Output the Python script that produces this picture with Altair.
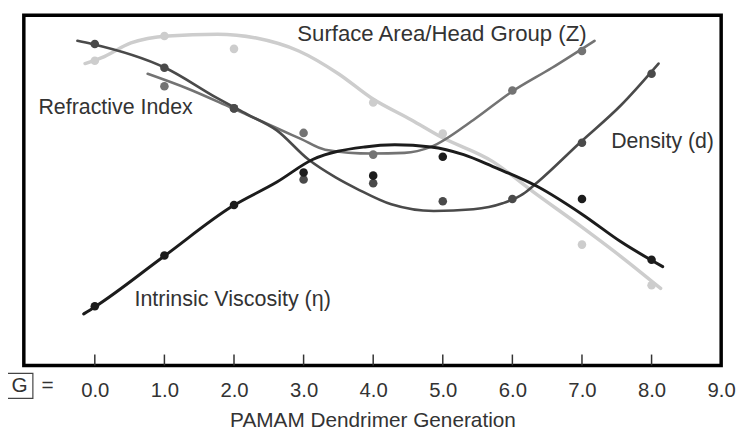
import altair as alt
import pandas as pd

# ---- data (x = dendrimer generation G, y = relative units 0-100) ----
# Intrinsic viscosity (black)
visc_curve_g = [-0.16, 0.0, 0.99, 1.98, 2.61, 3.13, 3.88, 4.31, 4.83, 5.30, 5.72, 6.36, 7.0, 7.56, 8.16]
visc_curve_v = [14.7, 16.7, 31.1, 45.5, 52.3, 58.8, 62.4, 63.0, 62.4, 60.2, 56.8, 51.1, 43.2, 35.3, 28.2]
visc_pts_g = [0, 1, 2, 3, 4, 5, 7, 8]
visc_pts_v = [16.9, 31.4, 45.8, 55.1, 54.2, 59.6, 47.5, 30.2]

# Density (dark grey)
dens_curve_g = [-0.25, -0.04, 1.01, 1.76, 2.18, 2.61, 3.07, 3.46, 3.78, 4.26, 4.87, 5.44, 5.86, 6.15, 6.36, 6.97, 7.56, 8.10]
dens_curve_v = [92.7, 91.8, 85.0, 76.3, 71.8, 67.2, 58.8, 53.7, 50.3, 46.0, 44.1, 44.6, 46.3, 48.9, 52.3, 63.6, 74.3, 86.2]
dens_pts_g = [0, 1, 2, 3, 4, 5, 6, 7, 8]
dens_pts_v = [91.8, 85.0, 73.4, 53.1, 52.0, 46.9, 47.5, 63.6, 83.3]

# Surface area / head group Z (medium grey)
z_curve_g = [0.76, 1.33, 1.95, 2.61, 2.96, 3.31, 3.98, 4.45, 4.83, 5.44, 5.98, 6.57, 7.18]
z_curve_v = [83.3, 79.1, 73.7, 67.8, 64.7, 61.6, 60.5, 60.7, 62.4, 70.1, 78.0, 85.0, 92.7]
z_pts_g = [1, 2, 3, 4, 6, 7]
z_pts_v = [79.7, 73.4, 66.4, 60.2, 78.5, 89.8]

# Refractive index (light grey)
ri_curve_g = [-0.14, 0.10, 0.52, 1.05, 1.76, 2.32, 2.93, 3.50, 3.98, 4.55, 4.97, 5.72, 6.29, 7.0, 7.56, 8.13]
ri_curve_v = [86.2, 87.9, 92.1, 94.1, 94.6, 93.5, 89.8, 83.3, 76.3, 70.1, 65.3, 58.2, 49.7, 39.5, 31.1, 22.0]
ri_pts_g = [0, 1, 2, 4, 5, 7, 8]
ri_pts_v = [87.0, 94.1, 90.4, 75.1, 66.2, 34.5, 22.9]

# annotations
label_text = ["Refractive Index", "Surface Area/Head Group (Z)", "Density (d)", "Intrinsic Viscosity (η)"]
label_g = [-0.81, 2.91, 7.42, 0.57]
label_v = [73.4, 94.6, 63.8, 19.0]
label_size = [21.6, 22.4, 21.5, 21.7]

tick_values = [0, 1, 2, 3, 4, 5, 6, 7, 8]
tick_labels = [0, 1, 2, 3, 4, 5, 6, 7, 8, 9]
tick_len = 3.1

gbox_g = [-1.27]
gbox_g2 = [-0.89]
gbox_v = [-2.3]
gbox_v2 = [-9.4]
gsym_text = ["G", "="]
gsym_g = [-1.08, -0.68]
gsym_v = [-6.0, -6.0]

FONT = "Liberation Sans"
TXT = "#333333"

xs = alt.Scale(domain=[-1.02, 9.0], nice=False, zero=False)
ys = alt.Scale(domain=[0, 100], nice=False, zero=False)
xaxis = alt.Axis(values=tick_labels, format=".1f", domain=False, ticks=False, grid=False,
                 labelFontSize=20.5, labelColor=TXT, labelFont=FONT, labelPadding=15,
                 labelFlush=False, title="PAMAM Dendrimer Generation", titleFontSize=21,
                 titleFont=FONT, titleFontWeight="normal", titleColor=TXT, titlePadding=9)
X = alt.X("g:Q", scale=xs, axis=xaxis)
Y = alt.Y("v:Q", scale=ys, axis=None)


def series(cg, cv, pg, pv, color, width):
    cdf = pd.DataFrame({"g": cg, "v": cv})
    pdf = pd.DataFrame({"g": pg, "v": pv})
    line = alt.Chart(cdf).mark_line(interpolate="monotone", color=color, strokeWidth=width,
                                    strokeCap="round").encode(x=X, y=Y)
    pts = alt.Chart(pdf).mark_circle(color=color, size=75, opacity=1).encode(x=X, y=Y)
    return [line, pts]


layers = []
layers += series(ri_curve_g, ri_curve_v, ri_pts_g, ri_pts_v, "#cdcdcd", 3.5)
layers += series(z_curve_g, z_curve_v, z_pts_g, z_pts_v, "#737373", 2.6)
layers += series(dens_curve_g, dens_curve_v, dens_pts_g, dens_pts_v, "#4a4a4a", 2.6)
layers += series(visc_curve_g, visc_curve_v, visc_pts_g, visc_pts_v, "#1c1c1c", 3)

ticks_df = pd.DataFrame({"g": tick_values, "v": [0] * len(tick_values), "v2": [tick_len] * len(tick_values)})
ticks = alt.Chart(ticks_df).mark_rule(color="#333333", strokeWidth=1.5).encode(x=X, y=Y, y2="v2:Q")

labels_df = pd.DataFrame({"g": label_g, "v": label_v, "t": label_text, "s": label_size})
labels = alt.Chart(labels_df).mark_text(align="left", baseline="middle", font=FONT,
                                        color=TXT).encode(
    x=X, y=Y, text="t:N", size=alt.Size("s:Q", scale=None, legend=None))

box_df = pd.DataFrame({"g": gbox_g, "g2": gbox_g2, "v": gbox_v, "v2": gbox_v2})
box = alt.Chart(box_df).mark_rect(fill="white", stroke="#444444", strokeWidth=1.2).encode(
    x=X, x2="g2:Q", y=Y, y2="v2:Q")

gs_df = pd.DataFrame({"g": gsym_g, "v": gsym_v, "t": gsym_text})
gsym = alt.Chart(gs_df).mark_text(align="center", baseline="middle", fontSize=21, font=FONT,
                                  color=TXT).encode(x=X, y=Y, text="t:N")

chart = alt.layer(*layers, ticks, labels, box, gsym).properties(
    width=705, height=354,
    autosize=alt.AutoSizeParams(type="none"),
    padding={"left": 16, "top": 5, "right": 15, "bottom": 66},
    background="white",
).configure_view(stroke="black", strokeWidth=3.5)

chart.save("out.html", embed_options={"renderer": "svg", "actions": False})
